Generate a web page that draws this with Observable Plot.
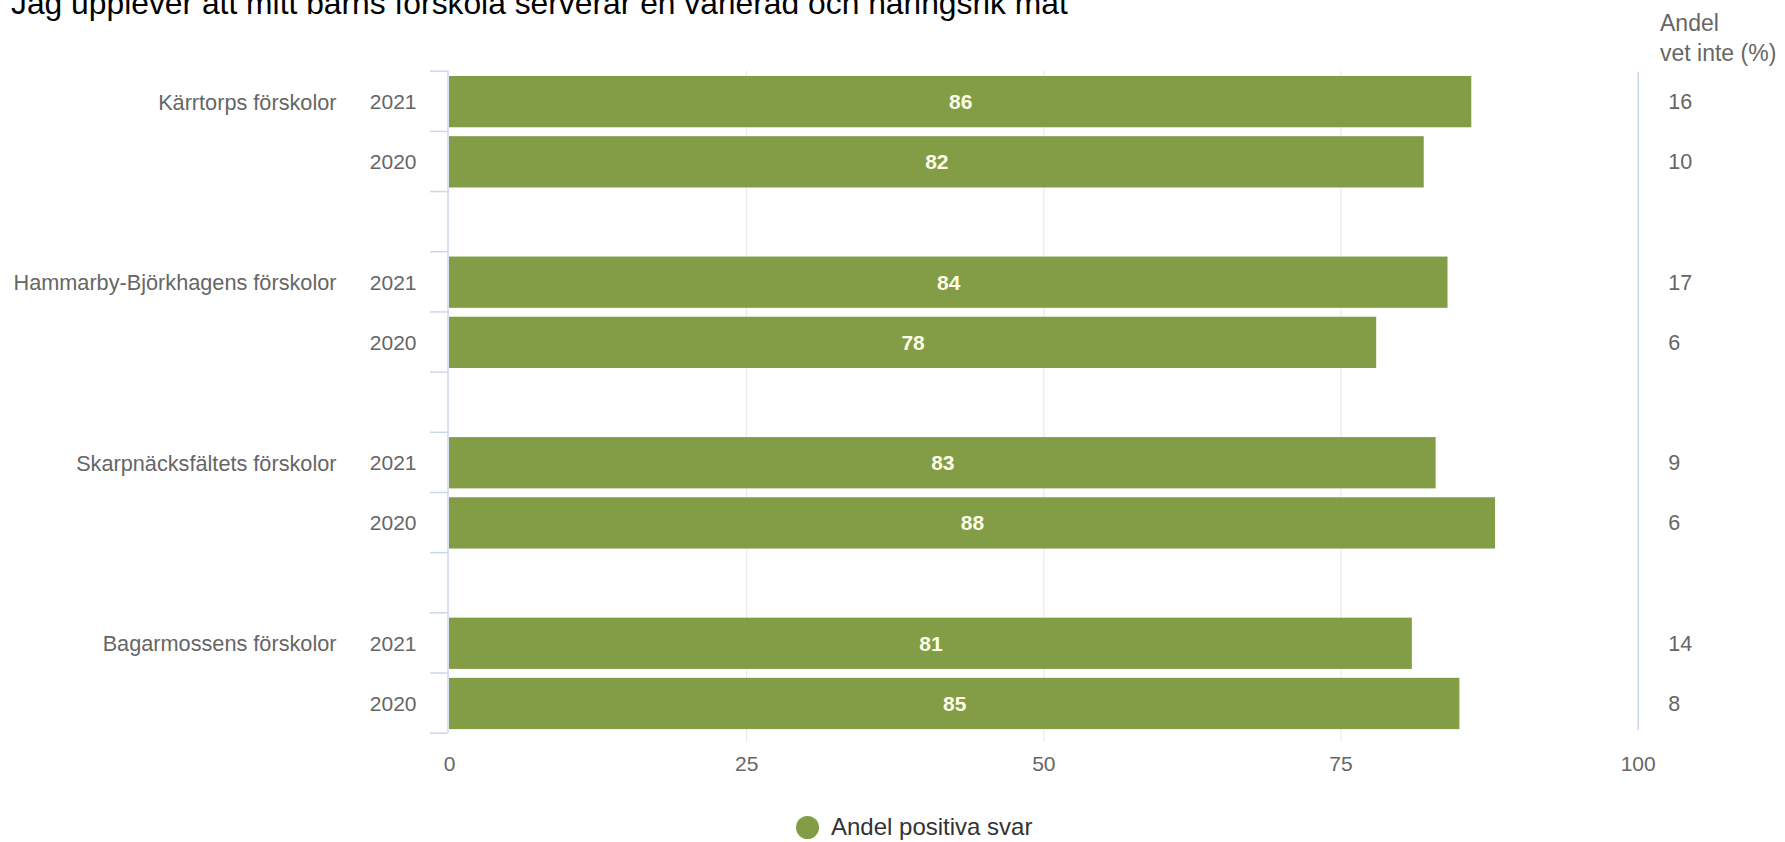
<!DOCTYPE html>
<html>
<head>
<meta charset="utf-8">
<script src="https://cdn.jsdelivr.net/npm/d3@7"></script>
<script src="https://cdn.jsdelivr.net/npm/@observablehq/plot@0.6"></script>
<style>
  html, body { margin: 0; padding: 0; background: #fff; }
  body { font-family: "Liberation Sans", Arial, Helvetica, sans-serif; }
  #wrap { position: relative; width: 1785px; height: 842px; overflow: hidden; }
  #title { position: absolute; left: 11px; top: -13px; font-size: 31.8px; line-height: 32px; color: #000; white-space: nowrap; }
  #rhead { position: absolute; left: 1660px; top: 8px; font-size: 23px; line-height: 30px; color: #666; white-space: nowrap; }
  #legend { position: absolute; left: 796px; top: 813px; display: flex; align-items: center; font-size: 24px; color: #333; white-space: nowrap; }
  #legend .sw { width: 23px; height: 23px; border-radius: 50%; background: #829d46; margin-right: 12px; }
  #chart { position: absolute; left: 0; top: 0; }
</style>
</head>
<body>
<div id="wrap">
  <div id="chart"></div>
  <div id="title"></div>
  <div id="rhead"></div>
  <div id="legend"><span class="sw"></span><span id="legtext"></span></div>
</div>
<script>
// ---- data ----
const titleText = "Jag upplever att mitt barns förskola serverar en varierad och näringsrik mat";
const rightHeader = ["Andel", "vet inte (%)"];
const seriesName = "Andel positiva svar";
const schools = ["Kärrtorps förskolor", "Hammarby-Björkhagens förskolor", "Skarpnäcksfältets förskolor", "Bagarmossens förskolor"];
const years = ["2021", "2020"];
const positive2021 = [86, 84, 83, 81];
const positive2020 = [82, 78, 88, 85];
const dontKnow2021 = [16, 17, 9, 14];
const dontKnow2020 = [10, 6, 6, 8];
const xTicks = [0, 25, 50, 75, 100];
const gridValues = [25, 50, 75];

// ---- build rows (each school: 2021 row, 2020 row, spacer row) ----
const positive = {"2021": positive2021, "2020": positive2020};
const dontKnow = {"2021": dontKnow2021, "2020": dontKnow2020};
const rows = [];
schools.forEach((s, k) => {
  years.forEach((yr, j) => {
    rows.push({school: s, year: yr, row: k * 3 + j, value: positive[yr][k], dk: dontKnow[yr][k]});
  });
});
const nRows = schools.length * 3 - 1;
const boundaries = d3.range(0, nRows + 1);

document.getElementById("title").textContent = titleText;
document.getElementById("rhead").innerHTML = rightHeader.join("<br>");
document.getElementById("legtext").textContent = seriesName;

const font = "'Liberation Sans', Arial, Helvetica, sans-serif";
const green = "#829d46";

const chart = Plot.plot({
  width: 1785,
  height: 842,
  marginTop: 70.7,
  marginBottom: 109.3,
  marginLeft: 449,
  marginRight: 147.3,
  style: {fontFamily: font, background: "transparent", overflow: "visible"},
  x: {domain: [0, 100], label: null},
  y: {domain: [0, nRows], reverse: true, axis: null},
  marks: [
    Plot.ruleX(gridValues, {y1: 0, y2: nRows + 0.15, stroke: "#e6e6e6", strokeWidth: 1}),
    Plot.ruleX([100], {y1: 0.02, y2: nRows - 0.04, stroke: "#ccd6eb", strokeWidth: 1.5}),
    Plot.ruleX([0], {y1: 0, y2: nRows, dx: -1.5, stroke: "#ccd6eb", strokeWidth: 1.5}),
    Plot.ruleY(boundaries, {x1: 0, x2: 0, insetLeft: -19, insetRight: 1.5, stroke: "#ccd6eb", strokeWidth: 1.5}),
    Plot.rectX(rows, {x1: 0, x2: "value", y1: "row", y2: d => d.row + 1, insetTop: 5.3, insetBottom: 3.6, fill: green}),
    Plot.text(rows, {x: d => d.value / 2, y: d => d.row + 0.5, dy: 1, text: d => String(d.value), fill: "#fdfde8", fontSize: 21, fontWeight: "bold"}),
    Plot.text(rows, {x: 0, y: d => d.row + 0.5, dx: -33, dy: 1, text: "year", textAnchor: "end", fill: "#666", fontSize: 21}),
    Plot.text(rows.filter(d => d.year === years[0]), {x: 0, y: d => d.row + 0.5, dx: -113, dy: 1.5, text: "school", textAnchor: "end", fill: "#666", fontSize: 21.7}),
    Plot.text(rows, {x: 100, y: d => d.row + 0.5, dx: 30, dy: 1, text: d => String(d.dk), textAnchor: "start", fill: "#666", fontSize: 21.5}),
    Plot.axisX(xTicks, {tickSize: 0, tickPadding: 22.5, fontSize: 21, fill: "#666", tickFormat: d => String(d), label: null})
  ]
});
document.getElementById("chart").appendChild(chart);
</script>
</body>
</html>
